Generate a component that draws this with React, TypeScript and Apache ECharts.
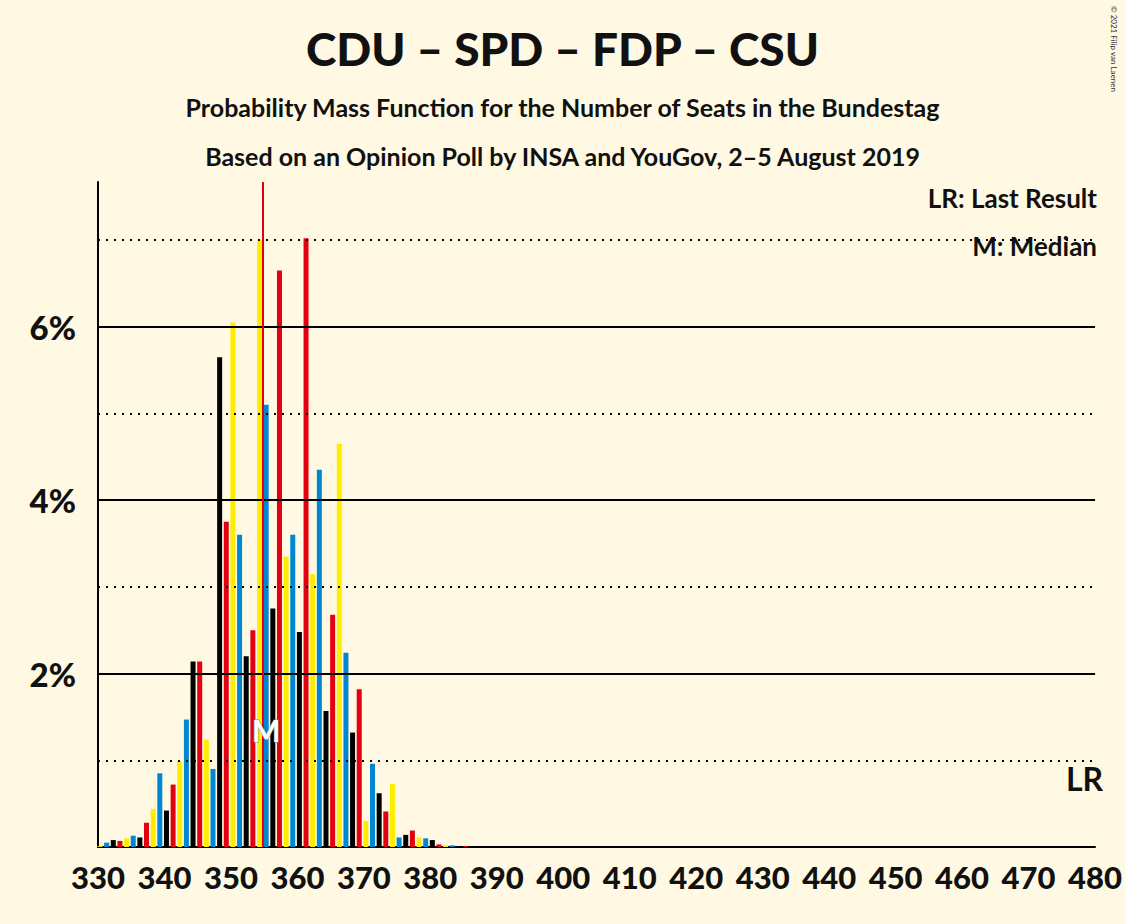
import React, { useEffect, useRef } from "react";
import * as echarts from "echarts";

const seats = [330,331,332,333,334,335,336,337,338,339,340,341,342,343,344,345,346,347,348,349,350,351,352,353,354,355,356,357,358,359,360,361,362,363,364,365,366,367,368,369,370,371,372,373,374,375,376,377,378,379,380,381,382,383,384,385];
const probs = [0.01,0.05,0.08,0.07,0.1,0.13,0.11,0.28,0.44,0.85,0.42,0.72,0.99,1.47,2.14,2.14,1.24,0.9,5.65,3.75,6.05,3.6,2.2,2.5,7.0,5.1,2.75,6.65,3.35,3.6,2.48,7.02,3.15,4.35,1.57,2.68,4.65,2.24,1.32,1.82,0.3,0.96,0.62,0.41,0.73,0.11,0.14,0.19,0.11,0.1,0.08,0.03,0.02,0.02,0.01,0.01];
const palette = ["#FFED00", "#0087D1", "#000000", "#E3000F"];
const xTicks = [330,340,350,360,370,380,390,400,410,420,430,440,450,460,470,480];
const solidLines = [2, 4, 6];
const dottedLines = [1, 3, 5, 7];
const median = 355;
const majority = 354.8;

export default function App() {
  const ref = useRef<HTMLDivElement>(null);
  useEffect(() => {
    const chart = echarts.init(ref.current!, undefined, { renderer: "svg" });
    const font = "Lato, 'Open Sans', sans-serif";
    chart.setOption({
      animation: false,
      backgroundColor: "#FFF9E3",
      textStyle: { fontFamily: font },
      title: [
        { text: "CDU – SPD – FDP – CSU", left: "center", top: 20, textStyle: { fontSize: 46, fontWeight: 900, color: "#111", fontFamily: font } },
        { text: "Probability Mass Function for the Number of Seats in the Bundestag", left: "center", top: 89, textStyle: { fontSize: 25, fontWeight: "bold", color: "#111", fontFamily: font } },
        { text: "Based on an Opinion Poll by INSA and YouGov, 2–5 August 2019", left: "center", top: 138, textStyle: { fontSize: 25, fontWeight: "bold", color: "#111", fontFamily: font } },
      ],
      graphic: [
        { type: "text", right: 28, top: 185, style: { text: "LR: Last Result", fontSize: 26, fontWeight: "bold", fill: "#111", fontFamily: font } },
        { type: "text", right: 28, top: 233, style: { text: "M: Median", fontSize: 26, fontWeight: "bold", fill: "#111", fontFamily: font } },
        { type: "text", x: 1066, y: 762, style: { text: "LR", fontSize: 32, fontWeight: "bold", fill: "#111", fontFamily: font } },
        { type: "text", x: 1118, y: 6, rotation: -Math.PI / 2, style: { text: "© 2021 Filip van Laenen", fontSize: 8, fill: "#333", fontFamily: font } },
      ],
      grid: { left: 98, right: 28, top: 182, bottom: 77 },
      xAxis: {
        type: "value", min: 330, max: 480, interval: 10,
        axisLine: { show: true, lineStyle: { color: "#000", width: 2 } },
        axisTick: { show: false }, splitLine: { show: false },
        axisLabel: { fontSize: 31, fontWeight: 900, color: "#111", margin: 14, customValues: xTicks },
      },
      yAxis: {
        type: "value", min: 0, max: 7.67, interval: 1,
        axisLine: { show: true, lineStyle: { color: "#000", width: 2 } },
        axisTick: { show: false }, splitLine: { show: false },
        axisLabel: { fontSize: 33, fontWeight: 900, color: "#111", margin: 22, formatter: (v: number) => (v % 2 === 0 && v > 0 ? v + "%" : "") },
      },
      series: [
        {
          type: "bar", barWidth: 5, z: 3,
          data: seats.map((s, i) => ({ value: [s + 0.3, probs[i]], itemStyle: { color: palette[i % 4] } })),
          markLine: {
            silent: true, symbol: "none", label: { show: false },
            data: [
              ...solidLines.map((v) => ({ yAxis: v, lineStyle: { type: "solid", color: "#000", width: 2 } })),
              ...dottedLines.map((v) => ({ yAxis: v, lineStyle: { type: [2, 6], color: "#000", width: 2 } })),
              [{ coord: [majority, 0], lineStyle: { type: "solid", color: "#E3000F", width: 2 } }, { coord: [majority, 7.67] }],
            ],
          },
          markPoint: {
            symbol: "circle", symbolSize: 1, itemStyle: { color: "transparent" },
            label: { show: true, formatter: "M", fontSize: 30, fontWeight: "bold", color: "#fff", textBorderColor: "#888", textBorderWidth: 1 },
            data: [{ coord: [median + 0.3, 1.35] }],
          },
        },
      ],
    });
    return () => chart.dispose();
  }, []);
  return <div ref={ref} style={{ width: 1125, height: 924, position: "absolute", left: 0, top: 0 }} />;
}
